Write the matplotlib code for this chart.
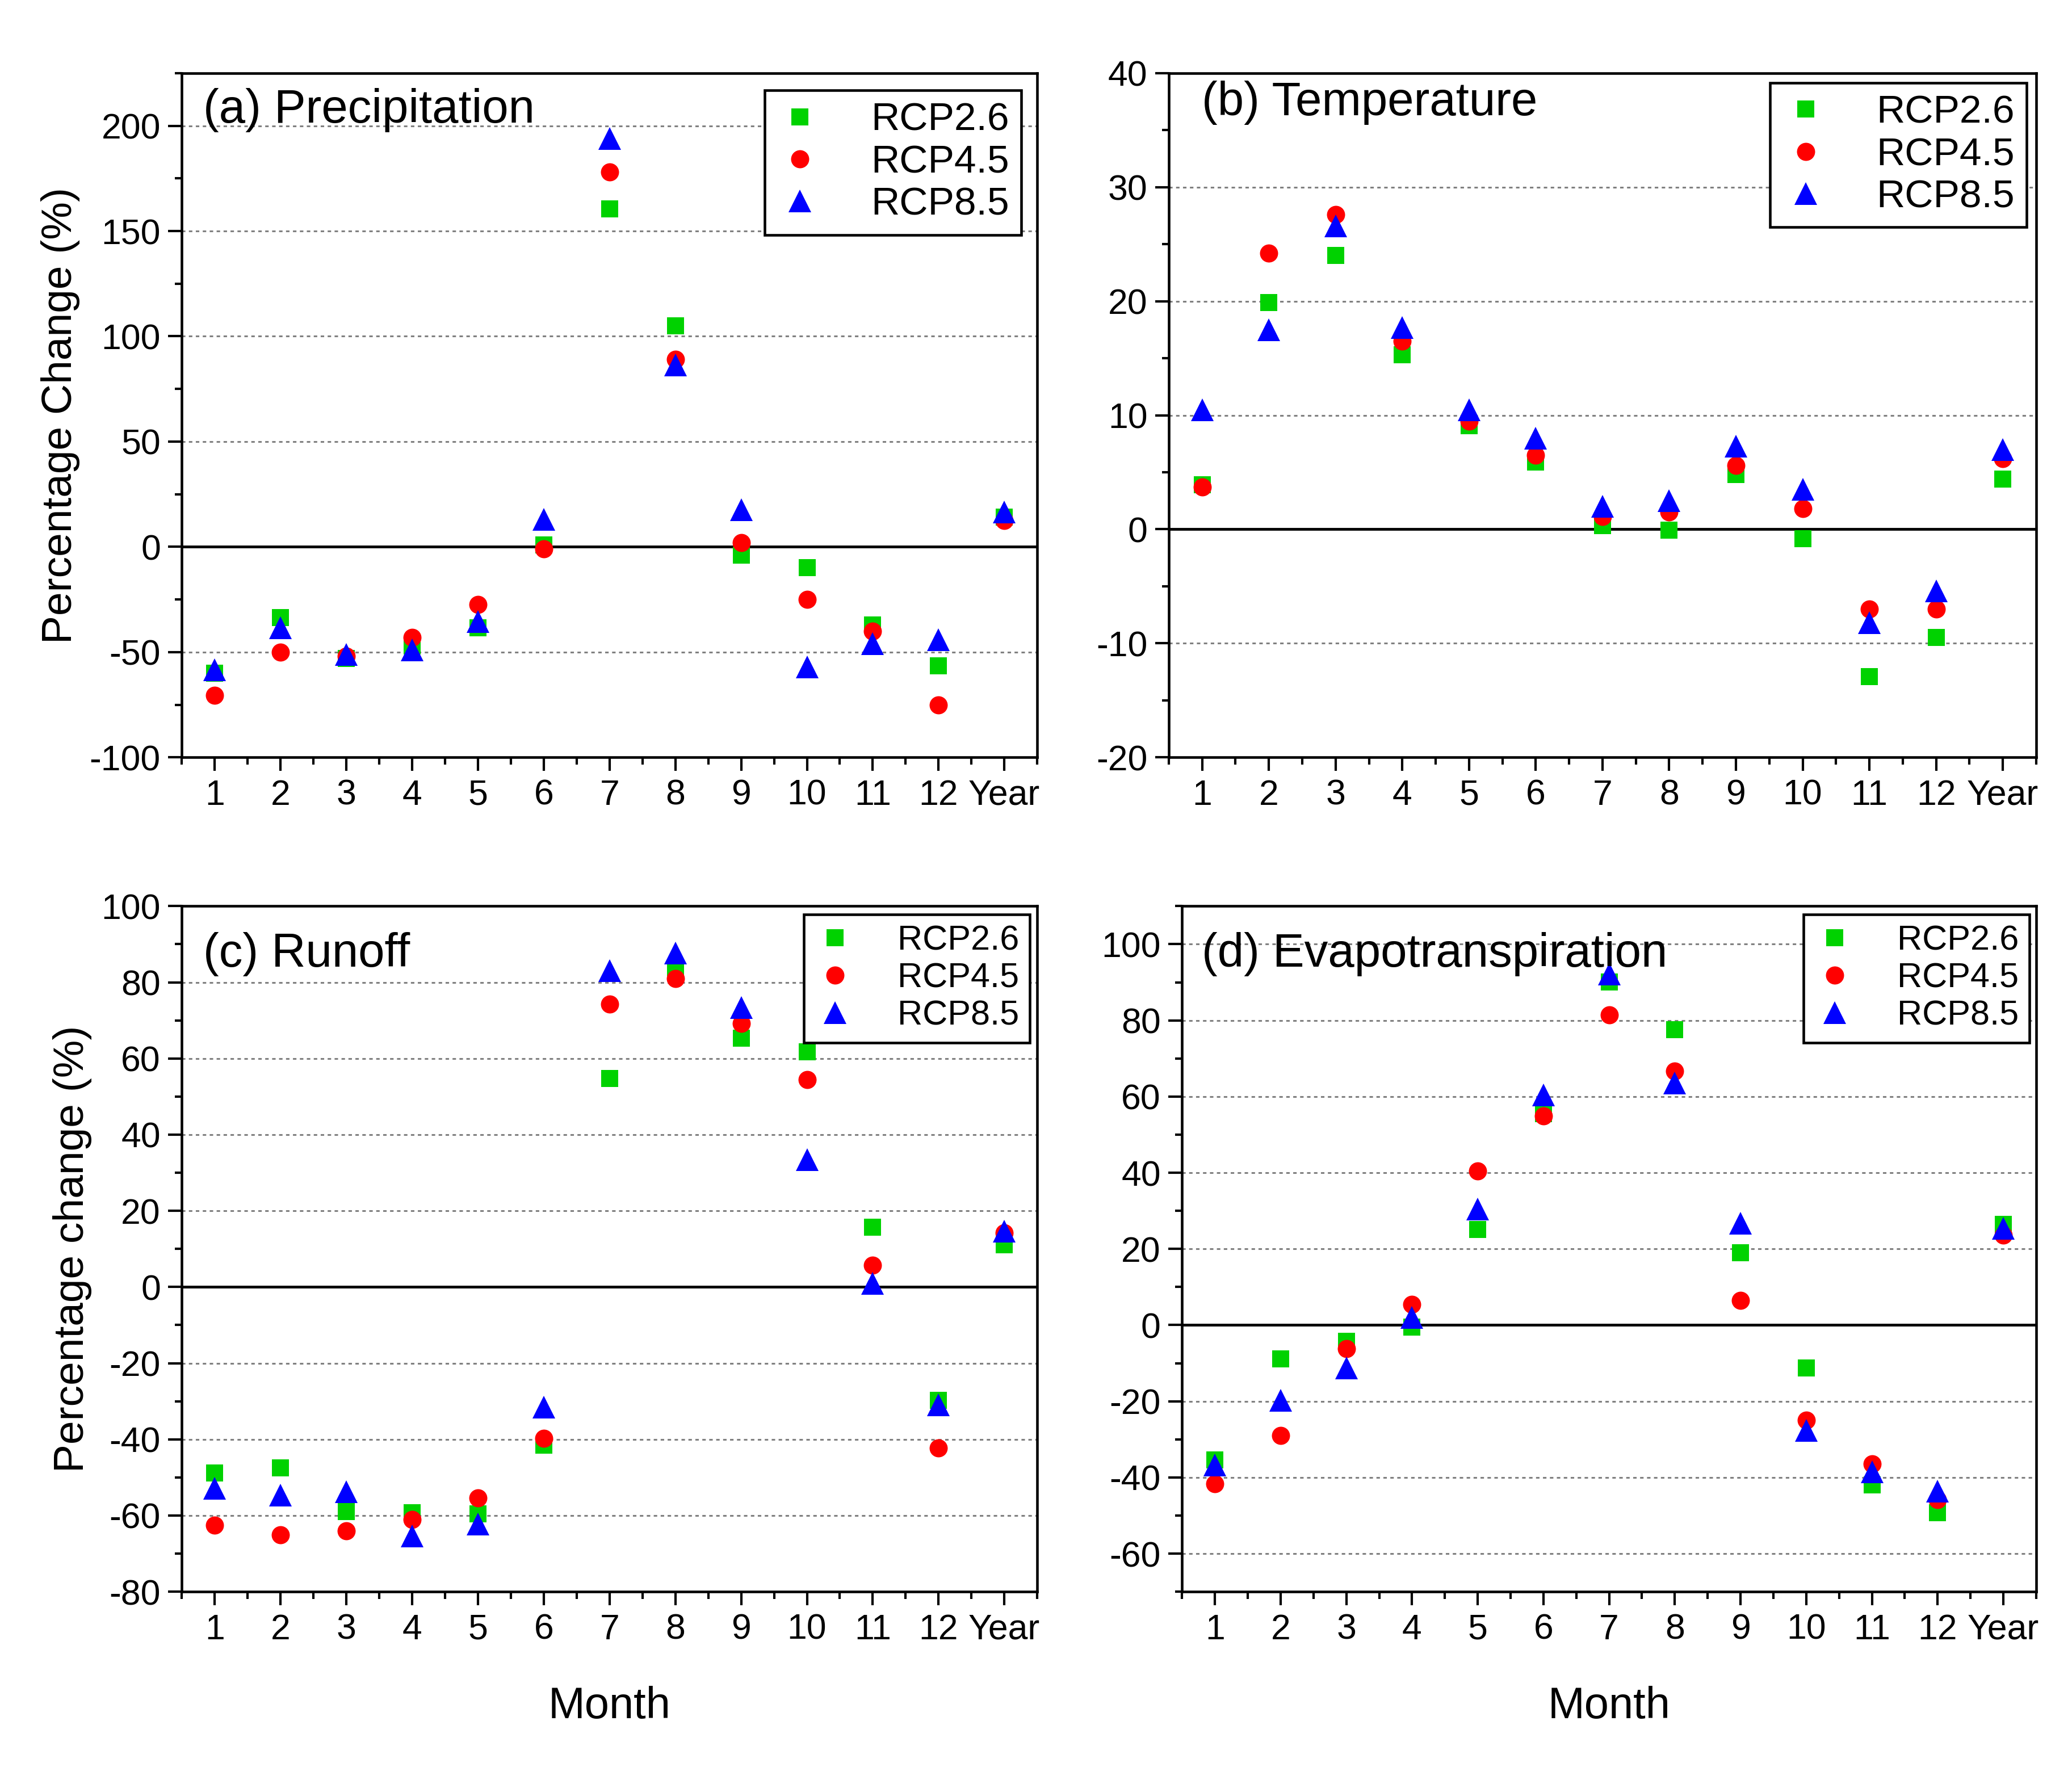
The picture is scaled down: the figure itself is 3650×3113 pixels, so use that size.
import matplotlib
matplotlib.use("Agg")
import matplotlib.pyplot as plt
from matplotlib.ticker import MultipleLocator

plt.rcParams['font.family'] = ['Liberation Sans', 'DejaVu Sans']
plt.rcParams['axes.unicode_minus'] = False

months = list(range(1, 14))
month_labels = ['1', '2', '3', '4', '5', '6', '7', '8', '9', '10', '11', '12', 'Year']
scenarios = ['RCP2.6', 'RCP4.5', 'RCP8.5']

# (a) precipitation, % change
precip_26 = [-60, -33.5, -53, -47, -38.5, 1, 160.5, 105, -4, -10, -37, -56.5, 14]
precip_45 = [-70.5, -50, -52, -43, -27.5, -1, 178, 89, 2, -25, -40, -75, 12.5]
precip_85 = [-58.5, -38.5, -51, -49, -35.5, 13, 194, 86.5, 17.5, -57, -46, -44, 16.5]

# (b) temperature, % change
temp_26 = [3.9, 19.9, 24, 15.3, 9.1, 5.9, 0.3, -0.1, 4.8, -0.8, -12.9, -9.5, 4.4]
temp_45 = [3.7, 24.2, 27.6, 16.5, 9.5, 6.5, 1.1, 1.5, 5.6, 1.8, -7.0, -7.0, 6.2]
temp_85 = [10.5, 17.5, 26.6, 17.7, 10.5, 8.0, 2.0, 2.5, 7.3, 3.5, -8.2, -5.4, 7.0]

# (c) runoff, % change
runoff_26 = [-48.8, -47.5, -59, -59.2, -59.5, -41.5, 54.8, 83.8, 65.4, 61.8, 15.7, -29.7, 11.1]
runoff_45 = [-62.5, -65, -64, -61, -55.4, -39.7, 74.2, 81, 69.2, 54.5, 5.7, -42.3, 14.2]
runoff_85 = [-52.8, -54.6, -53.8, -65.4, -62.3, -31.5, 83, 87.7, 73.4, 33.4, 1, -31, 14.6]

# (d) evapotranspiration, % change
et_26 = [-35.4, -8.9, -4.3, -0.5, 25.1, 55.5, 90.1, 77.5, 19, -11.2, -42, -49.3, 26.5]
et_45 = [-41.6, -29, -6.2, 5.4, 40.5, 54.9, 81.4, 66.7, 6.5, -25, -36.5, -45.8, 23.6]
et_85 = [-36.7, -19.7, -11.2, 2, 30.4, 60.4, 92.1, 63.5, 26.7, -27.7, -38.5, -43.6, 25.4]

colors = ['#00d200', '#ff0000', '#0000ff']
markers = ['s', 'o', '^']
msizes = [22, 23, 29]

fig = plt.figure(figsize=(36.5, 31.13), dpi=100)

panels = [
    dict(rect=[0.0878, 0.5714, 0.4128, 0.3872], data=[precip_26, precip_45, precip_85],
         ylim=(-100, 225), major=50, minor=25, grid=[-50, 50, 100, 150, 200],
         title='(a) Precipitation', tpos=(0.025, 0.946), ylabel='Percentage Change (%)',
         leg=(0.981, 0.975), legfs=50, xlabel=None),
    dict(rect=[0.5641, 0.5714, 0.4186, 0.3872], data=[temp_26, temp_45, temp_85],
         ylim=(-20, 40), major=10, minor=5, grid=[-10, 10, 20, 30],
         title='(b) Temperature', tpos=(0.038, 0.957), ylabel=None,
         leg=(0.989, 0.986), legfs=50, xlabel=None),
    dict(rect=[0.0878, 0.0992, 0.4128, 0.3880], data=[runoff_26, runoff_45, runoff_85],
         ylim=(-80, 100), major=20, minor=10, grid=[-60, -40, -20, 20, 40, 60, 80],
         title='(c) Runoff', tpos=(0.025, 0.93), ylabel='Percentage change (%)',
         leg=(0.991, 0.988), legfs=44, xlabel='Month'),
    dict(rect=[0.5705, 0.0992, 0.4122, 0.3880], data=[et_26, et_45, et_85],
         ylim=(-70, 110), major=20, minor=10, grid=[-60, -40, -20, 20, 40, 60, 80, 100],
         title='(d) Evapotranspiration', tpos=(0.023, 0.93), ylabel=None,
         leg=(0.992, 0.988), legfs=44, xlabel='Month'),
]

for p in panels:
    ax = fig.add_axes(p['rect'])
    for g in p['grid']:
        ax.axhline(g, color='#808080', linestyle=(0, (2, 2)), linewidth=2.2, zorder=1)
    ax.axhline(0, color='black', linewidth=3.5, zorder=1)
    for vals, name, c, m, ms in zip(p['data'], scenarios, colors, markers, msizes):
        ax.plot(months, vals, linestyle='none', marker=m, color=c, markersize=ms,
                markeredgewidth=0, label=name, zorder=3)
    ax.set_xlim(0.5, 13.5)
    ax.set_ylim(*p['ylim'])
    ax.set_xticks(months)
    ax.set_xticklabels(month_labels)
    ax.xaxis.set_minor_locator(MultipleLocator(0.5))
    ax.yaxis.set_major_locator(MultipleLocator(p['major']))
    ax.yaxis.set_minor_locator(MultipleLocator(p['minor']))
    ax.tick_params(which='both', direction='out', top=False, right=False, width=3, labelsize=45)
    ax.tick_params(which='major', length=17, pad=10)
    ax.tick_params(which='minor', length=9)
    for s in ax.spines.values():
        s.set_linewidth(3.3)
    ax.text(p['tpos'][0], p['tpos'][1], p['title'], transform=ax.transAxes,
            fontsize=60, va='center', ha='left', zorder=5)
    if p['ylabel']:
        ax.set_ylabel(p['ylabel'], fontsize=54, labelpad=12)
    if p['xlabel']:
        ax.set_xlabel(p['xlabel'], fontsize=56, labelpad=50)
    leg = ax.legend(loc='upper right', bbox_to_anchor=p['leg'], borderaxespad=0,
                    fontsize=p['legfs'], fancybox=False, framealpha=1, edgecolor='black',
                    handletextpad=1.2, handlelength=1.2, labelspacing=0.15, borderpad=0.3)
    leg.get_frame().set_linewidth(3.3)
    leg.set_zorder(4)

fig.savefig('out.png', dpi=100)
